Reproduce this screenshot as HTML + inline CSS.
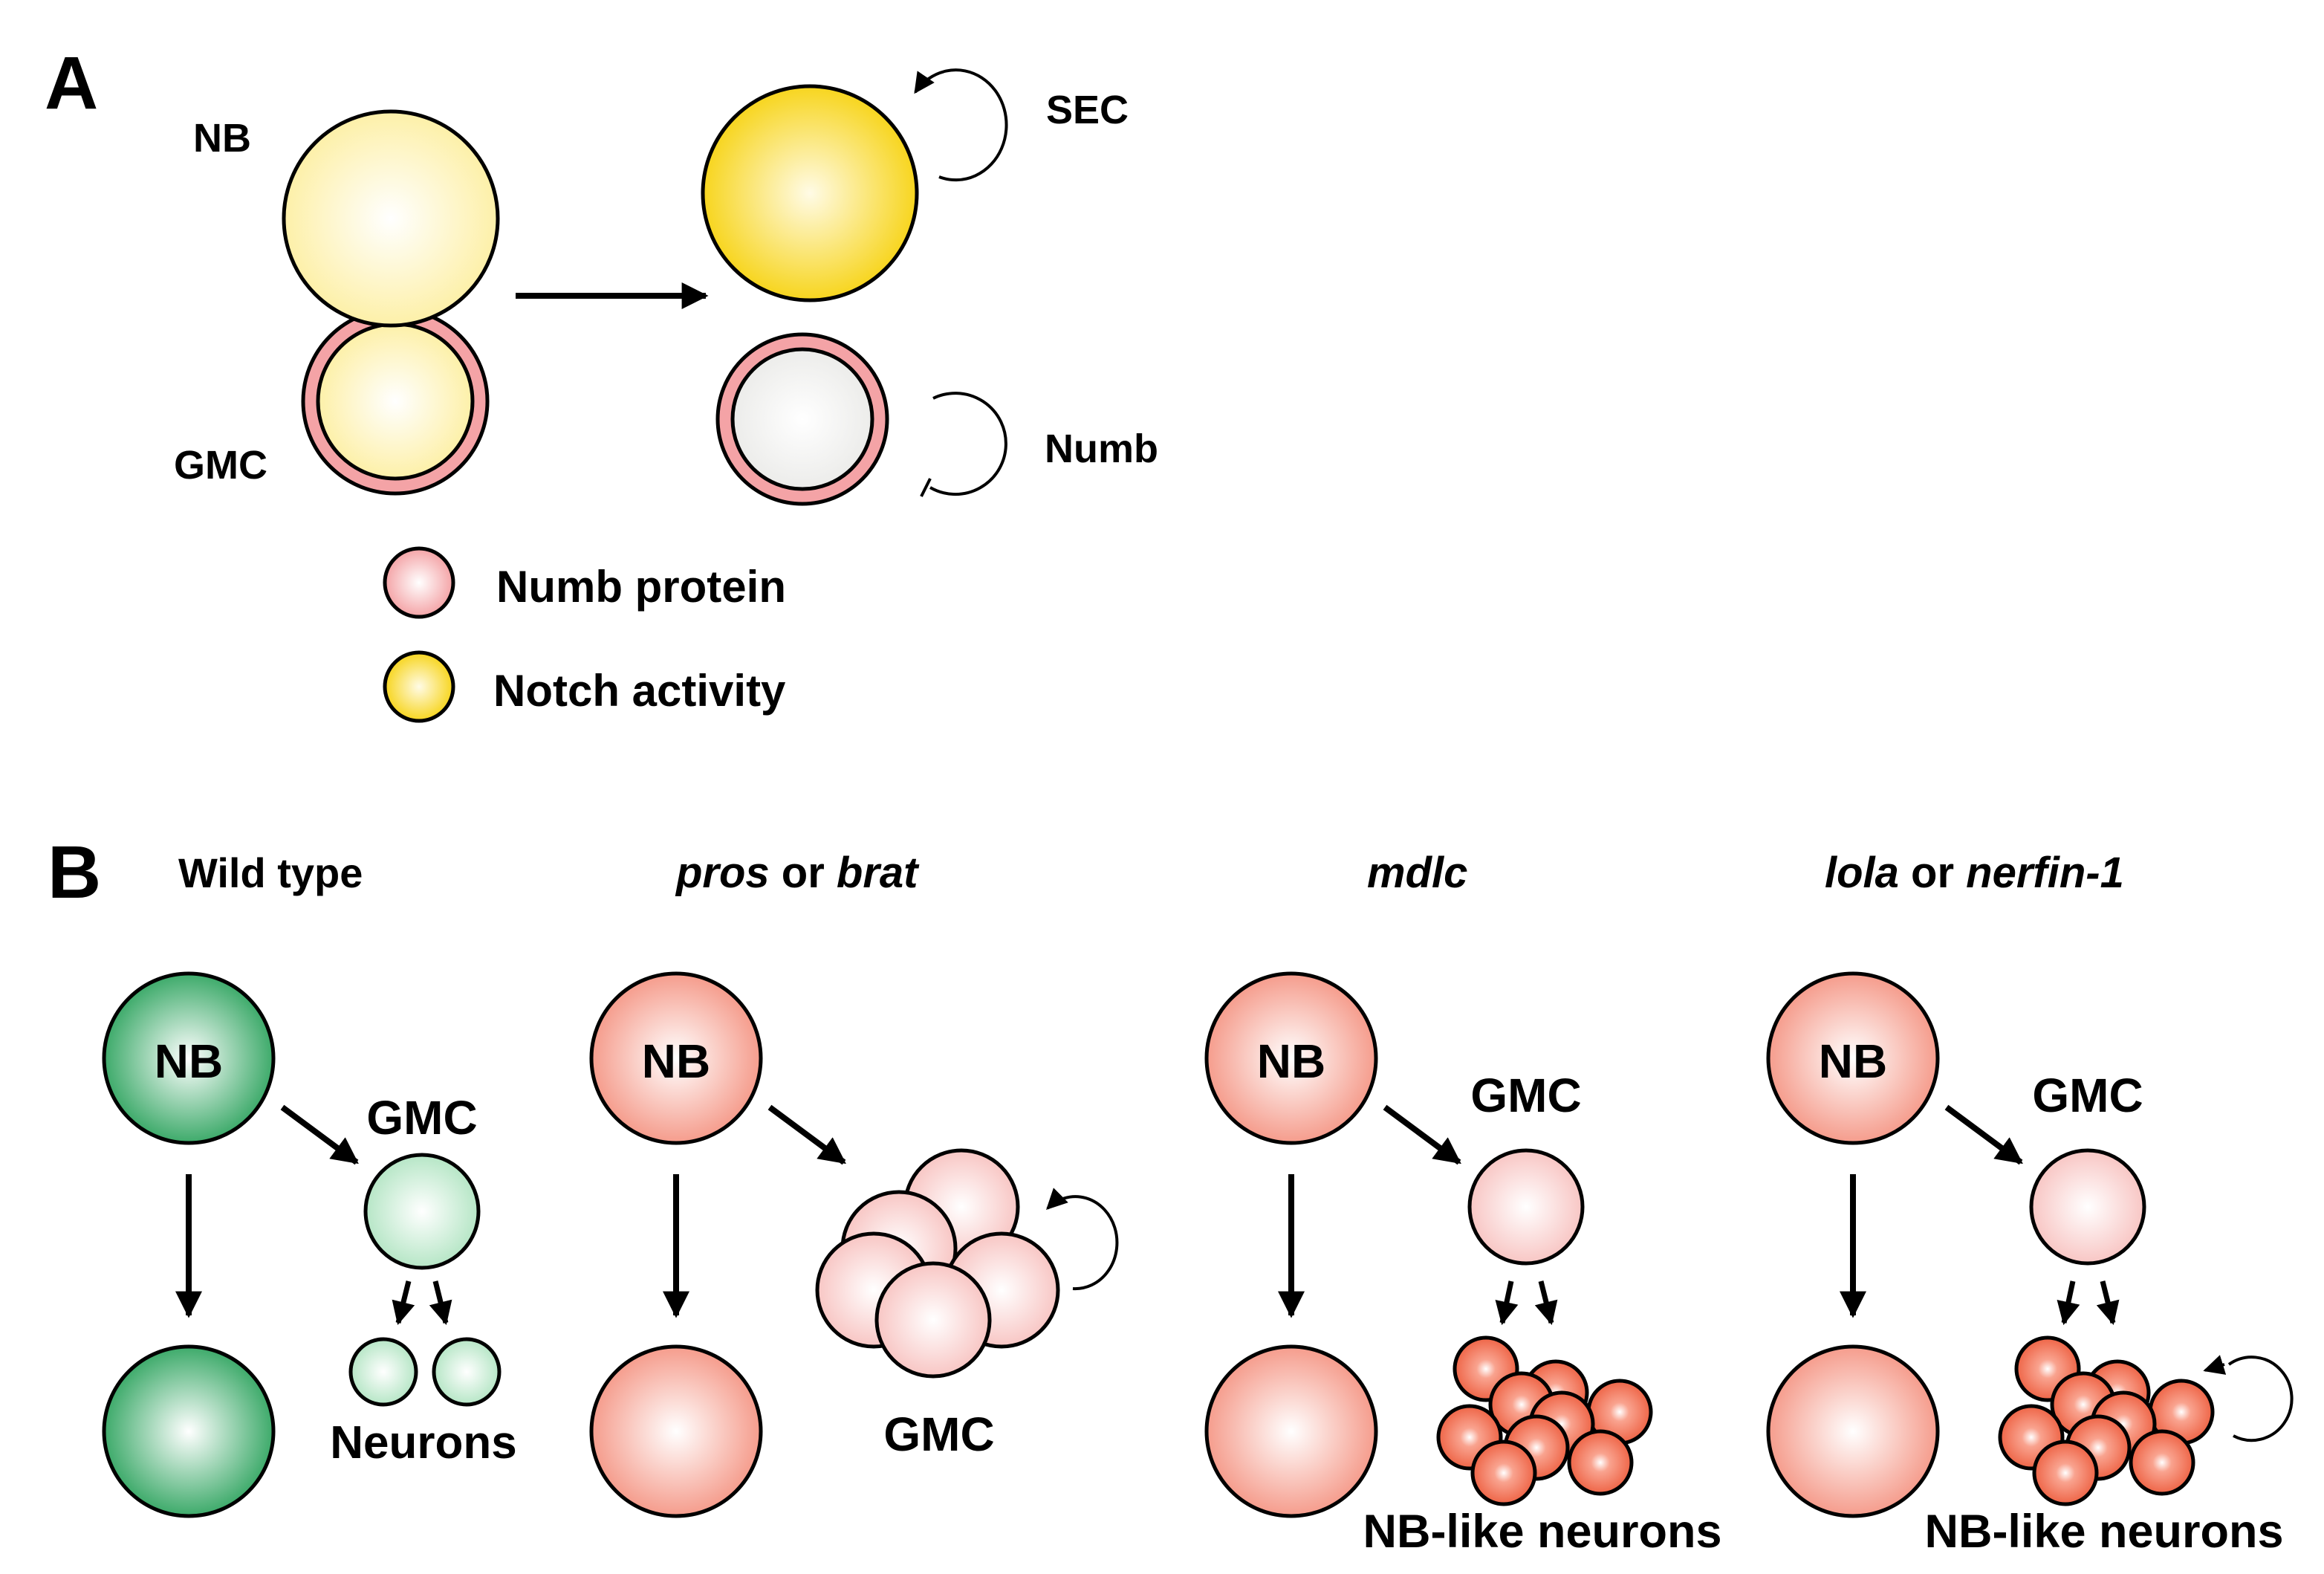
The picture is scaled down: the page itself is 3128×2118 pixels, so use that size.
<!DOCTYPE html>
<html><head><meta charset="utf-8"><style>html,body{margin:0;padding:0;background:#fff}svg{display:block}</style></head>
<body>
<svg width="3128" height="2118" viewBox="0 0 1564 1059" xmlns="http://www.w3.org/2000/svg" font-family="Liberation Sans, Arial, sans-serif" font-weight="bold">
<defs>
<radialGradient id="py"><stop offset="0" stop-color="#fff"/><stop offset="1" stop-color="#fdf0a8"/></radialGradient>
<radialGradient id="yy"><stop offset="0" stop-color="#fffbe6"/><stop offset="1" stop-color="#f7d51e"/></radialGradient>
<radialGradient id="gy"><stop offset="0" stop-color="#fff"/><stop offset="1" stop-color="#ececea"/></radialGradient>
<radialGradient id="pk"><stop offset="0" stop-color="#fff"/><stop offset="1" stop-color="#f4a3a6"/></radialGradient>
<radialGradient id="gg"><stop offset="0" stop-color="#fff"/><stop offset="1" stop-color="#3daa6a"/></radialGradient>
<radialGradient id="lg"><stop offset="0" stop-color="#fff"/><stop offset="1" stop-color="#b6e6c6"/></radialGradient>
<radialGradient id="sa"><stop offset="0" stop-color="#fff"/><stop offset="1" stop-color="#f59c8c"/></radialGradient>
<radialGradient id="lp"><stop offset="0" stop-color="#fff"/><stop offset="1" stop-color="#f8c6c4"/></radialGradient>
<radialGradient id="rd" cx="0.5" cy="0.5" r="0.5"><stop offset="0" stop-color="#fff"/><stop offset="0.3" stop-color="#f9a38f"/><stop offset="1" stop-color="#ee6446"/></radialGradient>
<marker id="ah" viewBox="0 0 10 10" refX="9" refY="5" markerWidth="4.5" markerHeight="4.5" orient="auto"><path d="M0,0 L10,5 L0,10z" fill="#000"/></marker>
<marker id="ah2" viewBox="0 0 10 10" refX="9" refY="5" markerWidth="7" markerHeight="7" orient="auto"><path d="M0,0 L10,5 L0,10z" fill="#000"/></marker>
</defs>
<g stroke="#000" stroke-width="2.5">
<circle cx="266" cy="270" r="62" fill="#f4a3a6"/>
<circle cx="266" cy="270" r="52" fill="url(#py)"/>
<circle cx="263" cy="147" r="72" fill="url(#py)"/>
<line x1="347" y1="199" x2="475" y2="199" stroke-width="4" marker-end="url(#ah)"/>
<circle cx="545" cy="130" r="72" fill="url(#yy)"/>
<circle cx="540" cy="282" r="57" fill="#f4a3a6"/>
<circle cx="540" cy="282" r="47" fill="url(#gy)"/>
<path d="M632,119 A34,37 0 1 0 616,62" fill="none" stroke-width="2" marker-end="url(#ah2)"/>
<path d="M628,268 A34,34 0 1 1 626,328" fill="none" stroke-width="2"/>
<line x1="620" y1="334" x2="626" y2="322" stroke-width="2"/>
<circle cx="282" cy="392" r="23" fill="url(#pk)"/>
<circle cx="282" cy="462" r="23" fill="url(#yy)"/>
</g>
<g font-size="27" fill="#000">
<text x="30" y="73" font-size="50">A</text>
<text x="130" y="102">NB</text>
<text x="117" y="322">GMC</text>
<text x="704" y="83">SEC</text>
<text x="703" y="311">Numb</text>
<text x="334" y="405" font-size="30">Numb protein</text>
<text x="332" y="475" font-size="30">Notch activity</text>
<text x="32" y="604" font-size="50">B</text>
<text x="120" y="597" font-size="28">Wild type</text>
<text x="455" y="597" font-size="29"><tspan font-style="italic">pros</tspan> or <tspan font-style="italic">brat</tspan></text>
<text x="920" y="597" font-size="29" font-style="italic">mdlc</text>
<text x="1228" y="597" font-size="29"><tspan font-style="italic">lola</tspan> or <tspan font-style="italic">nerfin-1</tspan></text>
</g>
<g stroke="#000" stroke-width="2.5">
<circle cx="127" cy="712" r="57" fill="url(#gg)"/>
<circle cx="127" cy="963" r="57" fill="url(#gg)"/>
<circle cx="284" cy="815" r="38" fill="url(#lg)"/>
<circle cx="258" cy="923" r="22" fill="url(#lg)"/>
<circle cx="314" cy="923" r="22" fill="url(#lg)"/>
<circle cx="455" cy="712" r="57" fill="url(#sa)"/>
<circle cx="455" cy="963" r="57" fill="url(#sa)"/>
<circle cx="647" cy="812" r="38" fill="url(#lp)"/>
<circle cx="605" cy="840" r="38" fill="url(#lp)"/>
<circle cx="588" cy="868" r="38" fill="url(#lp)"/>
<circle cx="674" cy="868" r="38" fill="url(#lp)"/>
<circle cx="628" cy="888" r="38" fill="url(#lp)"/>
<path d="M722,867 A28,31 0 1 0 705,813" fill="none" stroke-width="2" marker-end="url(#ah2)"/>
<circle cx="869" cy="712" r="57" fill="url(#sa)"/>
<circle cx="869" cy="963" r="57" fill="url(#sa)"/>
<circle cx="1027" cy="812" r="38" fill="url(#lp)"/>
<circle cx="1247" cy="712" r="57" fill="url(#sa)"/>
<circle cx="1247" cy="963" r="57" fill="url(#sa)"/>
<circle cx="1405" cy="812" r="38" fill="url(#lp)"/>
<path d="M1500,918 A27,28 0 1 1 1503,966" fill="none" stroke-width="2"/>
<path d="M1497,918 L1484,922" stroke-width="2" marker-end="url(#ah2)"/>
</g>
<g id="cl" stroke="#000" stroke-width="2.5">
<circle cx="1000" cy="921" r="21" fill="url(#rd)"/>
<circle cx="1047" cy="937" r="21" fill="url(#rd)"/>
<circle cx="1090" cy="950" r="21" fill="url(#rd)"/>
<circle cx="1024" cy="945" r="21" fill="url(#rd)"/>
<circle cx="1051" cy="958" r="21" fill="url(#rd)"/>
<circle cx="989" cy="967" r="21" fill="url(#rd)"/>
<circle cx="1034" cy="974" r="21" fill="url(#rd)"/>
<circle cx="1077" cy="984" r="21" fill="url(#rd)"/>
<circle cx="1012" cy="991" r="21" fill="url(#rd)"/>
</g>
<use href="#cl" x="378" y="0"/>
<g stroke="#000" stroke-width="4" marker-end="url(#ah)">
<line x1="127" y1="790" x2="127" y2="885"/>
<line x1="190" y1="745" x2="240" y2="782"/>
<line x1="455" y1="790" x2="455" y2="885"/>
<line x1="518" y1="745" x2="568" y2="782"/>
<line x1="869" y1="790" x2="869" y2="885"/>
<line x1="932" y1="745" x2="982" y2="782"/>
<line x1="1247" y1="790" x2="1247" y2="885"/>
<line x1="1310" y1="745" x2="1360" y2="782"/>
</g>
<g stroke="#000" stroke-width="3.5" marker-end="url(#ah)">
<line x1="275" y1="862" x2="268" y2="890"/>
<line x1="293" y1="862" x2="300" y2="890"/>
<line x1="1017" y1="862" x2="1011" y2="890"/>
<line x1="1037" y1="862" x2="1044" y2="890"/>
<line x1="1395" y1="862" x2="1389" y2="890"/>
<line x1="1415" y1="862" x2="1422" y2="890"/>
</g>
<g font-size="32" fill="#000" text-anchor="middle">
<text x="127" y="725">NB</text>
<text x="455" y="725">NB</text>
<text x="869" y="725">NB</text>
<text x="1247" y="725">NB</text>
<text x="284" y="763">GMC</text>
<text x="1027" y="748">GMC</text>
<text x="1405" y="748">GMC</text>
<text x="285" y="981" font-size="31">Neurons</text>
<text x="632" y="976">GMC</text>
<text x="1038" y="1041" font-size="31.5">NB-like neurons</text>
<text x="1416" y="1041" font-size="31.5">NB-like neurons</text>
</g>
</svg>
</body></html>
